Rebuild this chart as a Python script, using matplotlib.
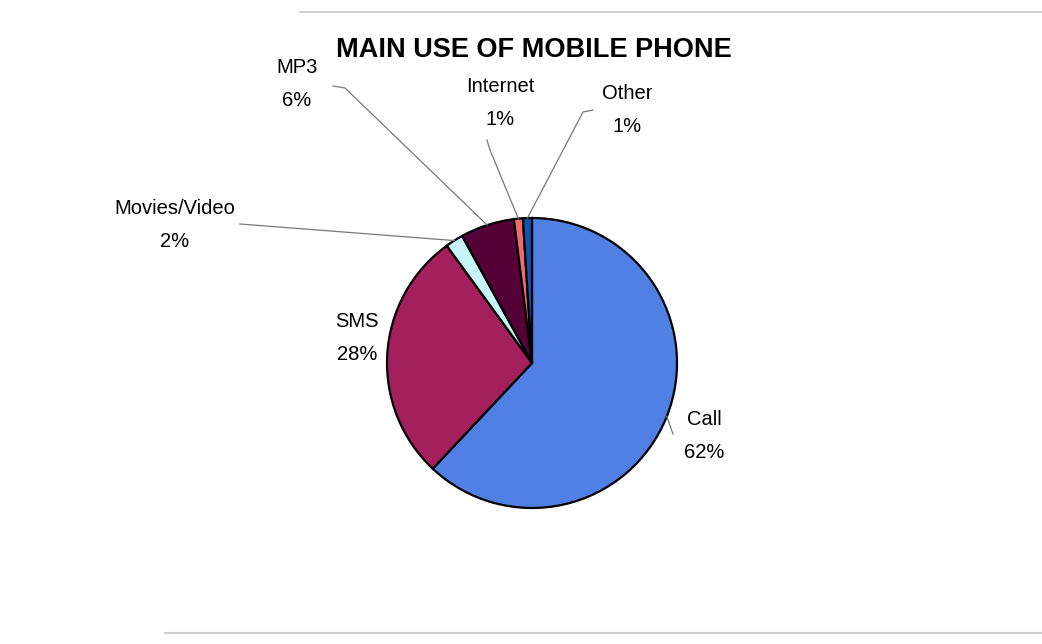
import numpy as np
import matplotlib.pyplot as plt

plt.rcParams['font.family'] = ['Liberation Sans', 'DejaVu Sans']

# share of use, clockwise from 12 o'clock
uses = ['Call', 'SMS', 'Movies/Video', 'MP3', 'Internet', 'Other']
share = [62, 28, 2, 6, 1, 1]
colours = ['#5080e4', '#a3205c', '#c8f6f6', '#560038', '#f26a6e', '#1652b0']

# label anchor (pixels from top-left) and optional elbow for leader line
label_xy = [(704, 436), (357, 338), (175, 225), (297, 84), (500, 103), (627, 110)]
elbows = [[(673, 434)], None, [(240, 224)], [(345, 88), (333, 86)],
          [(490, 150), (487, 140)], [(583, 112), (593, 110)]]

W, H = 1042, 644
cx, cy, R = 532, 363, 145

fig = plt.figure(figsize=(W / 100, H / 100), dpi=100)
ax = fig.add_axes([0, 0, 1, 1])
ax.axis('off')

ax.pie(share, colors=colours, startangle=90, counterclock=False,
       center=(cx, H - cy), radius=R,
       wedgeprops=dict(edgecolor='black', linewidth=1.6))
ax.set_xlim(0, W)
ax.set_ylim(0, H)
ax.set_aspect('equal')

total = sum(share)
start = 0
for name, val, (lx, ly), elbow in zip(uses, share, label_xy, elbows):
    mid = (start + val / 2) / total * 360
    start += val
    ang = np.deg2rad(90 - mid)
    ex, ey = cx + R * np.cos(ang), (H - cy) + R * np.sin(ang)
    if elbow:
        xs = [ex] + [p[0] for p in elbow]
        ys = [ey] + [H - p[1] for p in elbow]
        ax.plot(xs, ys, color='#777777', lw=0.9)
    ax.text(lx, H - ly, f'{name}\n{val / total * 100:.0f}%', ha='center', va='center',
            fontsize=14.5, linespacing=1.9, color='black')

ax.text(534, H - 50, 'MAIN USE OF MOBILE PHONE', ha='center', va='center',
        fontsize=19.5, fontweight='bold', color='black')

# faint frame edges
ax.plot([300, W], [H - 12, H - 12], color='#c8c8c8', lw=1.2)
ax.plot([165, W], [H - 633, H - 633], color='#cfcfcf', lw=1.5)

fig.savefig('out.png', dpi=100)
